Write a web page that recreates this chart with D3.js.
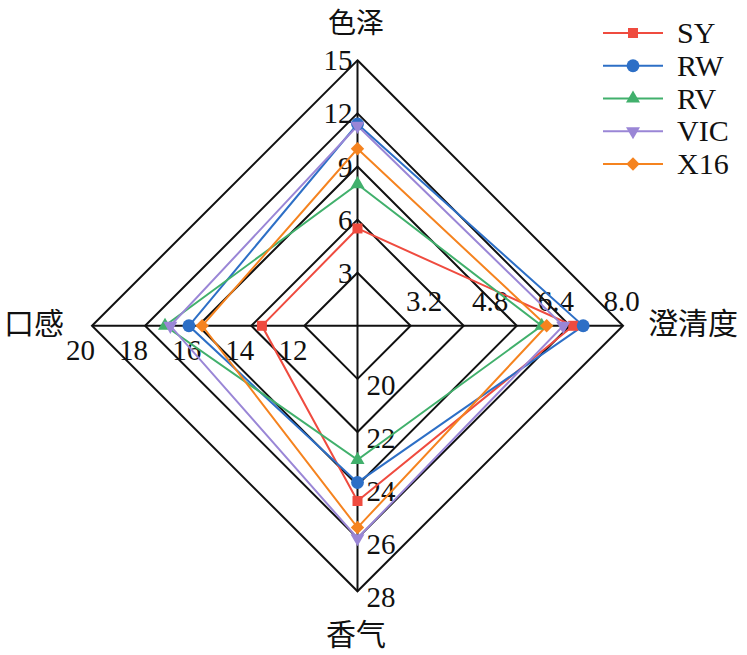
<!DOCTYPE html>
<html><head><meta charset="utf-8">
<script src="https://cdn.jsdelivr.net/npm/d3@7"></script>
<style>
html,body{margin:0;padding:0;background:#fff;}
svg text{font-family:"Liberation Serif","Times New Roman","Noto Sans CJK SC",serif;fill:#111;}
</style></head>
<body>
<svg id="chart" width="747" height="655"></svg>
<script>
// ---- data ----
const axisNames = ["色泽", "澄清度", "香气", "口感"];
const axisDomains = [[0, 15], [0, 8], [18, 28], [10, 20]];
const ticksColor = [3, 6, 9, 12, 15];
const ticksClarity = [3.2, 4.8, 6.4, 8.0];
const ticksAroma = [20, 22, 24, 26, 28];
const ticksTaste = [12, 14, 16, 18, 20];
const seriesNames = ["SY", "RW", "RV", "VIC", "X16"];
const valSY  = [5.5, 6.5, 24.6, 13.6];
const valRW  = [11.4, 6.8, 23.9, 16.35];
const valRV  = [8.0, 5.55, 23.05, 17.25];
const valVIC = [11.3, 6.2, 26.0, 17.05];
const valX16 = [10.0, 5.7, 25.6, 15.85];
const seriesValues = [valSY, valRW, valRV, valVIC, valX16];
const seriesColors = ["#ef4b3f", "#2d6fc6", "#41b06c", "#9a86d6", "#f5831f"];

// ---- layout ----
const cx = 357.5, cy = 325.8, R = 265.5;
const angles = [-Math.PI/2, 0, Math.PI/2, Math.PI];
const scales = axisDomains.map(d => d3.scaleLinear().domain(d).range([0, R]));
const svg = d3.select("#chart");
const pt = (i, v) => {
  const r = scales[i](v);
  return [cx + r*Math.cos(angles[i]), cy + r*Math.sin(angles[i])];
};

// grid rings (from the 色泽 axis ticks)
const g = svg.append("g");
ticksColor.forEach(t => {
  const r = scales[0](t);
  const pts = angles.map(a => [cx + r*Math.cos(a), cy + r*Math.sin(a)]);
  g.append("path").attr("d", d3.line()(pts) + "Z")
    .attr("fill", "none").attr("stroke", "#111").attr("stroke-width", 2);
});
// axes lines
g.append("line").attr("x1", cx).attr("x2", cx).attr("y1", cy - R).attr("y2", cy + R)
  .attr("stroke", "#111").attr("stroke-width", 2);
g.append("line").attr("x1", cx - R).attr("x2", cx + R).attr("y1", cy).attr("y2", cy)
  .attr("stroke", "#111").attr("stroke-width", 2);

// tick labels
const fs = 29;
ticksColor.forEach(t => {
  const [x, y] = pt(0, t);
  svg.append("text").attr("x", x - 5).attr("y", y + 10).attr("text-anchor", "end")
    .attr("font-size", fs).text(t);
});
ticksClarity.forEach(t => {
  const r = scales[1](t);
  svg.append("text").attr("x", cx + r*1.24 - 65).attr("y", cy - 15).attr("text-anchor", "middle")
    .attr("font-size", fs).text(t.toFixed(1));
});
ticksAroma.forEach(t => {
  const [x, y] = pt(2, t);
  svg.append("text").attr("x", x + 9).attr("y", y + 16).attr("text-anchor", "start")
    .attr("font-size", fs).text(t);
});
ticksTaste.forEach(t => {
  const [x, y] = pt(3, t);
  svg.append("text").attr("x", x + 3).attr("y", y + 34).attr("text-anchor", "end")
    .attr("font-size", fs).text(t);
});

// axis titles
const title = (x, y, anchor, s, f) => svg.append("text").attr("x", x).attr("y", y)
  .attr("text-anchor", anchor).attr("font-size", f)
  .style("font-family", "'Noto Sans CJK SC'").text(s);
title(356, 33, "middle", axisNames[0], 28);
title(648, 334, "start", axisNames[1], 30);
title(356, 645, "middle", axisNames[2], 30);
title(4, 334, "start", axisNames[3], 30);

// markers
const markerDefs = [
  {type: d3.symbolSquare, size: 100, rot: 0},
  {type: d3.symbolCircle, size: 130, rot: 0},
  {type: d3.symbolTriangle, size: 85, rot: 0},
  {type: d3.symbolTriangle, size: 85, rot: 180},
  {type: d3.symbolSquare, size: 90, rot: 45}
];

// series
seriesValues.forEach((vals, si) => {
  const pts = vals.map((v, i) => pt(i, v));
  svg.append("path").attr("d", d3.line()(pts) + "Z")
    .attr("fill", "none").attr("stroke", seriesColors[si]).attr("stroke-width", 2);
});
seriesValues.forEach((vals, si) => {
  const m = markerDefs[si];
  vals.forEach((v, i) => {
    const [x, y] = pt(i, v);
    svg.append("path").attr("d", d3.symbol().type(m.type).size(m.size)())
      .attr("transform", `translate(${x},${y}) rotate(${m.rot})`)
      .attr("fill", seriesColors[si]);
  });
});

// legend
const ly = d3.scalePoint().domain(seriesNames).range([33, 164]);
seriesNames.forEach((n, si) => {
  const y = ly(n);
  svg.append("line").attr("x1", 603).attr("x2", 663).attr("y1", y).attr("y2", y)
    .attr("stroke", seriesColors[si]).attr("stroke-width", 2);
  const m = markerDefs[si];
  svg.append("path").attr("d", d3.symbol().type(m.type).size(m.size)())
    .attr("transform", `translate(633,${y}) rotate(${m.rot})`).attr("fill", seriesColors[si]);
  svg.append("text").attr("x", 677).attr("y", y + 10).attr("font-size", 30).text(n);
});
</script>
</body></html>
